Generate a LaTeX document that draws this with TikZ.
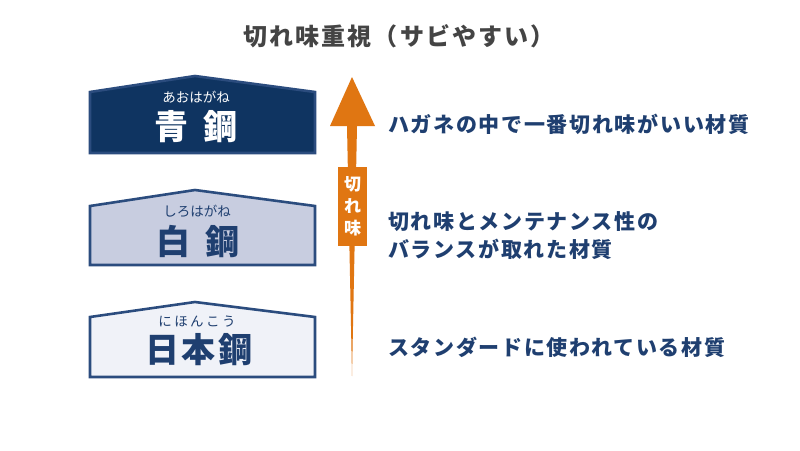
\documentclass[tikz,border=0pt]{standalone}
\usepackage{fontspec}
\newfontfamily\cjk{Noto Sans CJK JP}
\definecolor{navy}{HTML}{0F3461}
\definecolor{navyline}{HTML}{2B4C7E}
\definecolor{txtblue}{HTML}{1F3F70}
\definecolor{midfill}{HTML}{C8CDE0}
\definecolor{lightfill}{HTML}{F0F2F8}
\definecolor{orng}{HTML}{E07612}
\definecolor{ttl}{HTML}{444444}
\tikzset{
  x=1pt,y=-1pt,
  plate/.style={line width=2.6pt, line join=miter},
  desc/.style={anchor=west, text=txtblue, font=\cjk\bfseries\fontsize{21}{28}\selectfont\addfontfeature{LetterSpace=8}, inner sep=0pt, align=left},
  furi/.style={font=\cjk\fontsize{13.5}{14}\selectfont, inner sep=0pt},
  kanji/.style={font=\cjk\bfseries\fontsize{34}{36}\selectfont, inner sep=0pt}
}
\begin{document}
\begin{tikzpicture}
\useasboundingbox[fill=white] (0,0) rectangle (800,450);
% title
\node[font=\cjk\bfseries\fontsize{24}{26}\selectfont\addfontfeature{LetterSpace=9}, text=ttl, inner sep=0pt] (title) at (399,36) {切れ味重視（サビやすい）};
% plates
\draw[plate, draw=navyline, fill=navy] (90,153) -- (90,92) -- (195,76) -- (315,92) -- (315,153) -- cycle;
\draw[plate, draw=navyline, fill=midfill] (90,265) -- (90,206) -- (195,190) -- (315,206) -- (315,265) -- cycle;
\draw[plate, draw=navyline, fill=lightfill] (90,377) -- (90,317) -- (195,302) -- (315,317) -- (315,377) -- cycle;
% plate texts
\node[furi, text=white] (f1) at (196,97) {あおはがね};
\node[kanji, text=white] (k1) at (196,127) {青\hspace{0.45em}鋼};
\node[furi, text=txtblue] (f2) at (197,211) {しろはがね};
\node[kanji, text=txtblue] (k2) at (198,242) {白\hspace{0.45em}鋼};
\node[furi, text=txtblue, font=\cjk\fontsize{13.5}{14}\selectfont\addfontfeature{LetterSpace=18}] (f3) at (197,322) {にほんこう};
\node[kanji, text=txtblue, font=\cjk\bfseries\fontsize{34}{36}\selectfont\addfontfeature{LetterSpace=7}] (k3) at (199,350) {日本鋼};
% arrow
\fill[orng] (352,77) -- (375,126) -- (357,126) -- (352,376) -- (347,126) -- (330,126) -- cycle;
\fill[orng] (338,167) rectangle (367,246);
\node[text=white, font=\cjk\bfseries\fontsize{17}{22}\selectfont, align=center, inner sep=0pt] (lbl) at (352.5,206) {切\\れ\\味};
% descriptions
\node[desc] (d1) at (388,124) {ハガネの中で一番切れ味がいい材質};
\node[desc] (d2) at (388,236) {切れ味とメンテナンス性の\\バランスが取れた材質};
\node[desc] (d3) at (388,347) {スタンダードに使われている材質};
\end{tikzpicture}
\end{document}
